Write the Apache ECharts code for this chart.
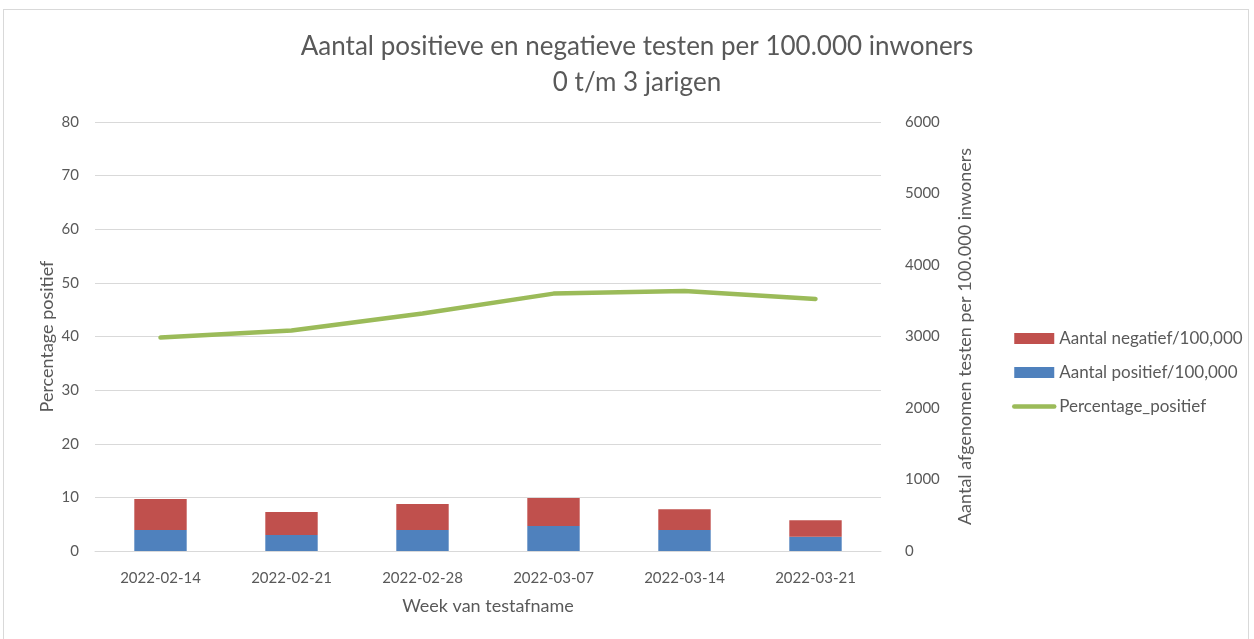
<!DOCTYPE html>
<html>
<head>
<meta charset="utf-8">
<title>Testen 0 t/m 3 jarigen</title>
<script src="https://cdn.jsdelivr.net/npm/echarts@6/dist/echarts.min.js"></script>
<style>
  html, body { margin: 0; padding: 0; background: #fff; }
  #frame {
    position: absolute; left: 3px; top: 9px; width: 1246px; height: 640px;
    border: 1px solid #d9d9d9; box-sizing: border-box;
  }
  #chart { position: absolute; left: 0; top: 0; width: 1254px; height: 639px; }
</style>
</head>
<body>
<div id="frame"></div>
<div id="chart"></div>
<script>
// weken
const weken = ['2022-02-14', '2022-02-21', '2022-02-28', '2022-03-07', '2022-03-14', '2022-03-21']
// aantallen per 100.000 (rechter as)
const positief = [294, 224, 294, 350, 294, 200]
const negatief = [433, 321, 363, 391, 289, 229]
// percentage positief (linker as)
const percentage = [39.8, 41.1, 44.3, 48.0, 48.5, 47.0]

const grijs = '#595959'
const font = 'Lato, "Open Sans", sans-serif'

let myChart = echarts.init(document.getElementById('chart'))
let option = {
  textStyle: { fontFamily: font },
  animation: false,
  title: {
    text: 'Aantal positieve en negatieve testen per 100.000 inwoners\n0 t/m 3 jarigen',
    left: 632,
    top: 24,
    textAlign: 'center',
    textStyle: { color: grijs, fontSize: 26, fontWeight: 'normal', lineHeight: 36, fontFamily: font }
  },
  legend: {
    orient: 'vertical',
    left: 1007,
    top: 325,
    itemGap: 17,
    itemWidth: 40,
    itemHeight: 11,
    textStyle: { color: grijs, fontSize: 17, fontFamily: font },
    data: [
      { name: 'Aantal negatief/100,000', icon: 'rect' },
      { name: 'Aantal positief/100,000', icon: 'rect' },
      { name: 'Percentage_positief', itemStyle: { opacity: 0 }, lineStyle: { width: 4.5, color: '#9bbb59', cap: 'round' } }
    ]
  },
  grid: { left: 95, right: 373, top: 122, bottom: 88 },
  xAxis: {
    type: 'category',
    data: weken,
    name: 'Week van testafname',
    nameLocation: 'middle',
    nameGap: 46,
    nameTextStyle: { color: grijs, fontSize: 18 },
    axisLine: { lineStyle: { color: '#d9d9d9', width: 1 } },
    axisTick: { show: false },
    axisLabel: { color: grijs, fontSize: 15, margin: 20 }
  },
  yAxis: [{
    type: 'value',
    min: 0, max: 80, interval: 10,
    name: 'Percentage positief',
    nameLocation: 'middle',
    nameRotate: 90,
    nameGap: 39,
    nameMoveOverlap: false,
    nameTextStyle: { color: grijs, fontSize: 18 },
    axisLine: { show: false },
    axisTick: { show: false },
    axisLabel: { color: grijs, fontSize: 15, margin: 16 },
    splitLine: { lineStyle: { color: '#d9d9d9', width: 1 } }
  }, {
    type: 'value',
    min: 0, max: 6000, interval: 1000,
    name: 'Aantal afgenomen testen per 100.000 inwoners',
    nameLocation: 'middle',
    nameRotate: 90,
    nameGap: 75,
    nameMoveOverlap: false,
    nameTextStyle: { color: grijs, fontSize: 18 },
    axisLine: { show: false },
    axisTick: { show: false },
    axisLabel: { color: grijs, fontSize: 15, margin: 24, formatter: (v) => String(v) },
    splitLine: { show: false }
  }],
  series: [{
    name: 'Aantal positief/100,000',
    type: 'bar',
    stack: 'testen',
    yAxisIndex: 1,
    barWidth: '40%',
    itemStyle: { color: '#4f81bd' },
    data: positief
  }, {
    name: 'Aantal negatief/100,000',
    type: 'bar',
    stack: 'testen',
    yAxisIndex: 1,
    barWidth: '40%',
    itemStyle: { color: '#c0504d' },
    data: negatief
  }, {
    name: 'Percentage_positief',
    type: 'line',
    yAxisIndex: 0,
    symbol: 'none',
    lineStyle: { color: '#9bbb59', width: 4.5, cap: 'round' },
    itemStyle: { color: '#9bbb59' },
    data: percentage
  }]
}
myChart.setOption(option)
</script>
</body>
</html>
